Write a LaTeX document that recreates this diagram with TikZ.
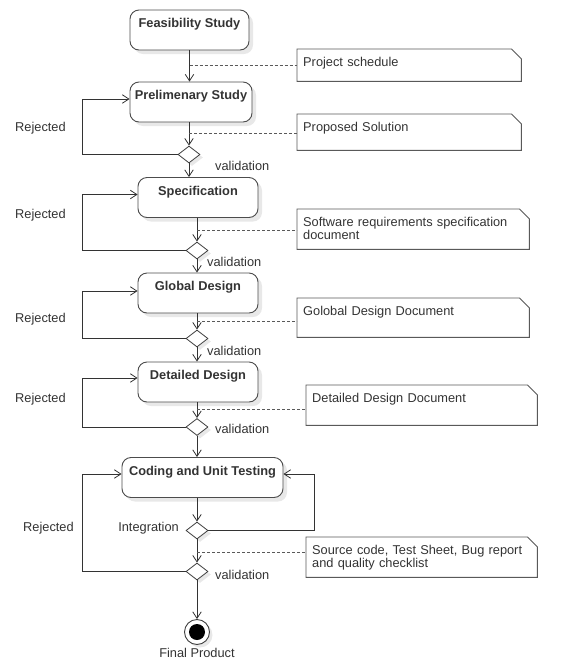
\documentclass[tikz,border=0pt]{standalone}
\usepackage{fontspec}
\setmainfont{Liberation Sans}
\usetikzlibrary{arrows.meta,shapes.geometric,shadows}
\newcommand\umlnote[6]{%
  \node[notefr, minimum width=#4pt, minimum height=#5pt] (#1) at (#2,#3) {};
  \draw[noteline] (#1.north west) -- ([xshift=-10pt]#1.north east) -- ([yshift=-10pt]#1.north east) -- (#1.south east) -- (#1.south west) -- cycle;
  \node[notetext] (#1t) at ([xshift=6pt,yshift=-17.5pt]#1.north west) {#6};
}
\begin{document}
\begin{tikzpicture}[x=1pt,y=-1pt,
  every node/.style={text=black!80, font=\fontsize{12.8}{14}\selectfont},
  act/.style={draw=black!70, line width=0.9pt, rounded corners=9pt, fill=white,
    drop shadow={shadow xshift=4pt,shadow yshift=-4pt,fill=black!9,opacity=1},
    inner xsep=2pt, inner ysep=0pt, text height=17.5pt, text depth=22.5pt,
    font=\fontsize{12.8}{14}\selectfont\bfseries},
  dec/.style={diamond, draw=black!75, line width=0.8pt, fill=white,
    minimum width=22pt, minimum height=17pt, inner sep=0pt,
    drop shadow={shadow xshift=3pt,shadow yshift=-3pt,fill=black!9,opacity=1}},
  arr/.style={draw=black!80, line width=0.8pt, -{Straight Barb[length=6.5pt,width=8.5pt]}},
  link/.style={draw=black!65, line width=0.8pt, dash pattern=on 3pt off 2pt},
  notefr/.style={anchor=north west, inner sep=0pt},
  noteline/.style={draw=black!65, line width=0.9pt},
  notetext/.style={anchor=base west, inner sep=0pt, text width=225pt, align=left,
    font=\fontsize{12.8}{12.5}\selectfont},
  lbl/.style={anchor=base west, inner sep=0pt}
]
\useasboundingbox (0,0) rectangle (578,665);
\coordinate (L) at (82,0);
\coordinate (R) at (314,0);

% activities
\node[act, minimum width=119pt] (fs) at (189.5,30) {Feasibility Study};
\node[act, minimum width=122pt] (ps) at (191,102) {Prelimenary Study};
\node[act, minimum width=120pt] (sp) at (198,197.5) {Specification};
\node[act, minimum width=120pt] (gd) at (198,293) {Global Design};
\node[act, minimum width=120pt] (dd) at (198,382) {Detailed Design};
\node[act, minimum width=161pt] (cu) at (202.5,477.5) {Coding and Unit Testing};

% decisions
\node[dec] (d1) at (189,154.5) {};
\node[dec] (d2) at (197,250.5) {};
\node[dec] (d3) at (197,338.5) {};
\node[dec] (d4) at (197,427) {};
\node[dec] (di) at (197,530.5) {};
\node[dec] (dv) at (197,571.5) {};

% final node
\node[circle, draw=black!75, line width=0.9pt, fill=white, minimum size=25pt, inner sep=0pt,
  drop shadow={shadow xshift=3pt,shadow yshift=-3pt,fill=black!9,opacity=1}] (fn) at (197,632) {};
\fill[black] (fn.center) circle (8pt);
\node[anchor=base, inner sep=0pt] (fl) at (197,657) {Final Product};

% notes
\umlnote{n1}{297}{49}{224}{32}{Project schedule}
\umlnote{n2}{297}{114}{224}{36}{Proposed Solution}
\umlnote{n3}{297}{209}{232}{40}{Software requirements specification\\document}
\umlnote{n4}{297}{298}{232}{39}{Golobal Design Document}
\umlnote{n5}{306}{385}{231}{40}{Detailed Design Document}
\umlnote{n6}{306}{537}{231}{40}{Source code, Test Sheet, Bug report\\and quality checklist}

% main flow
\draw[arr] (fs.south) -- (fs.south |- ps.north);
\draw[arr] (d1.north |- ps.south) -- (d1.north);
\draw[arr] (d1.south) -- (d1.south |- sp.north);
\draw[arr] (d2.north |- sp.south) -- (d2.north);
\draw[arr] (d2.south) -- (d2.south |- gd.north);
\draw[arr] (d3.north |- gd.south) -- (d3.north);
\draw[arr] (d3.south) -- (d3.south |- dd.north);
\draw[arr] (d4.north |- dd.south) -- (d4.north);
\draw[arr] (d4.south) -- (d4.south |- cu.north);
\draw[arr] (di.north |- cu.south) -- (di.north);
\draw[arr] (di.south) -- (dv.north);
\draw[arr] (dv.south) -- (fn.north);

% rejected loops
\draw[arr] (d1.west) -- (d1.west -| L) |- ([yshift=3pt]ps.west);
\draw[arr] (d2.west) -- (d2.west -| L) |- ([yshift=3pt]sp.west);
\draw[arr] (d3.west) -- (d3.west -| L) |- ([yshift=2pt]gd.west);
\draw[arr] (d4.west) -- (d4.west -| L) |- ([yshift=4pt]dd.west);
\draw[arr] (dv.west) -- (dv.west -| L) |- ([yshift=3.5pt]cu.west);
\draw[arr] (di.east) -- (di.east -| R) |- ([yshift=3.5pt]cu.east);

% note links
\coordinate (c1) at (189.5,65.5);
\coordinate (c2) at (189,133);
\coordinate (c3) at (197,230);
\coordinate (c4) at (197,321);
\coordinate (c5) at (197,409);
\coordinate (c6) at (197,552);
\draw[link] (c1) -- (c1 -| n1.west);
\draw[link] (c2) -- (c2 -| n2.west);
\draw[link] (c3) -- (c3 -| n3.west);
\draw[link] (c4) -- (c4 -| n4.west);
\draw[link] (c5) -- (c5 -| n5.west);
\draw[link] (c6) -- (c6 -| n6.west);

% labels
\node[lbl] (r1) at (15,131) {Rejected};
\node[lbl] (r2) at (15,218.5) {Rejected};
\node[lbl] (r3) at (15,322) {Rejected};
\node[lbl] (r4) at (15,402) {Rejected};
\node[lbl] (r5) at (23,531) {Rejected};
\node[lbl] (v1) at (215,170) {validation};
\node[lbl] (v2) at (207,266) {validation};
\node[lbl] (v3) at (207,355) {validation};
\node[lbl] (v4) at (215,433.5) {validation};
\node[lbl] (v5) at (215,579) {validation};
\node[anchor=base east, inner sep=0pt] (il) at (179,531) {Integration};
\end{tikzpicture}
\end{document}
